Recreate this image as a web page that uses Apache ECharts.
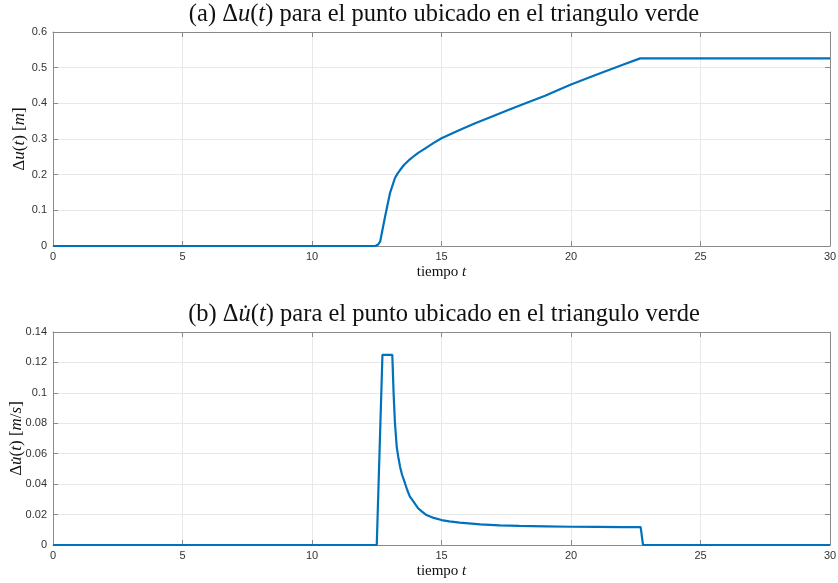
<!DOCTYPE html>
<html>
<head>
<meta charset="utf-8">
<script src="https://cdn.jsdelivr.net/npm/echarts@6/dist/echarts.min.js"></script>
<style>
html,body{margin:0;padding:0;background:#fff;}
#c{width:838px;height:583px;}
</style>
</head>
<body>
<div id="c"></div>
<script>
// Panel (a): displacement
const tA = [0, 12.45, 12.55, 12.63, 12.82, 13.01, 13.2, 13.3, 13.4, 13.55, 13.78, 13.95, 14.1, 14.42, 14.7, 15.0, 15.7, 16.3, 16.98, 17.6, 18.27, 19.0, 19.55, 20.0, 21.0, 22.0, 22.67, 30];
const uA = [0, 0, 0.004, 0.012, 0.082, 0.148, 0.19, 0.203, 0.213, 0.227, 0.243, 0.253, 0.261, 0.276, 0.289, 0.302, 0.325, 0.344, 0.364, 0.382, 0.401, 0.421, 0.439, 0.453, 0.481, 0.508, 0.526, 0.526];
// Panel (b): velocity
const tB = [0, 12.5, 12.72, 13.1, 13.15, 13.2, 13.27, 13.33, 13.4, 13.48, 13.59, 13.68, 13.78, 13.9, 14.1, 14.25, 14.42, 14.7, 15.0, 15.3, 15.7, 16.5, 17.24, 18.0, 19.0, 20.0, 21.0, 22.0, 22.69, 22.78, 30];
const vB = [0, 0, 0.125, 0.125, 0.1, 0.081, 0.0647, 0.058, 0.0515, 0.046, 0.0406, 0.036, 0.0318, 0.029, 0.0241, 0.022, 0.0197, 0.0178, 0.0164, 0.0155, 0.0147, 0.0136, 0.0129, 0.0126, 0.0123, 0.012, 0.0119, 0.0118, 0.0118, 0, 0];

const serif = '"Liberation Serif", "DejaVu Serif", serif';
const sans = '"Liberation Sans", Arial, sans-serif';
const axisCol = '#8a8a8a';
const labCol = '#333333';

function richSet(size) {
  return {
    n: {fontFamily: serif, fontSize: size, fontWeight: 'normal', color: '#111'},
    i: {fontFamily: serif, fontSize: size, fontWeight: 'normal', fontStyle: 'italic', color: '#111'}
  };
}

const chart = echarts.init(document.getElementById('c'), null, {renderer: 'canvas'});

function xAxisMain(gi) {
  return {
    type: 'value', gridIndex: gi, min: 0, max: 30, interval: 5,
    axisLine: {show: true, onZero: false, lineStyle: {color: axisCol, width: 1}},
    axisTick: {show: true, inside: true, length: 5, lineStyle: {color: axisCol}},
    axisLabel: {color: labCol, fontFamily: sans, fontSize: 11, margin: 5},
    splitLine: {show: true, lineStyle: {color: '#e8e8e8', width: 1}},
    name: '{n|tiempo }{i|t}', nameLocation: 'middle', nameGap: 19, nameMoveOverlap: false,
    nameTextStyle: {rich: richSet(15)}
  };
}
function xAxisTop(gi) {
  return {
    type: 'value', gridIndex: gi, min: 0, max: 30, interval: 5, position: 'top',
    axisLine: {show: true, onZero: false, lineStyle: {color: axisCol, width: 1}},
    axisTick: {show: true, inside: true, length: 5, lineStyle: {color: axisCol}},
    axisLabel: {show: false}, splitLine: {show: false}
  };
}
function yAxisMain(gi, max, interval, name, gap) {
  return {
    type: 'value', gridIndex: gi, min: 0, max: max, interval: interval,
    axisLine: {show: true, onZero: false, lineStyle: {color: axisCol, width: 1}},
    axisTick: {show: true, inside: true, length: 5, lineStyle: {color: axisCol}},
    axisLabel: {color: labCol, fontFamily: sans, fontSize: 11, margin: 6},
    splitLine: {show: true, lineStyle: {color: '#e8e8e8', width: 1}},
    name: name, nameLocation: 'middle', nameGap: gap, nameRotate: 90, nameMoveOverlap: false,
    nameTextStyle: {rich: richSet(17)}
  };
}
function yAxisRight(gi, max, interval) {
  return {
    type: 'value', gridIndex: gi, min: 0, max: max, interval: interval, position: 'right',
    axisLine: {show: true, onZero: false, lineStyle: {color: axisCol, width: 1}},
    axisTick: {show: true, inside: true, length: 5, lineStyle: {color: axisCol}},
    axisLabel: {show: false}, splitLine: {show: false}
  };
}

chart.setOption({
  animation: false,
  backgroundColor: '#fff',
  title: [
    {text: '{n|(a) Δ}{i|u}{n|(}{i|t}{n|) para el punto ubicado en el triangulo verde}',
     left: 444, top: 2, textAlign: 'center', textStyle: {fontWeight: 'normal', rich: richSet(24.5)}, padding: 0},
    {text: '{n|(b) Δ}{i|u̇}{n|(}{i|t}{n|) para el punto ubicado en el triangulo verde}',
     left: 444, top: 302, textAlign: 'center', textStyle: {fontWeight: 'normal', rich: richSet(24.5)}, padding: 0}
  ],
  grid: [
    {left: 53, right: 8, top: 32, height: 214, containLabel: false, outerBoundsMode: 'none'},
    {left: 53, right: 8, top: 332, height: 213, containLabel: false, outerBoundsMode: 'none'}
  ],
  xAxis: [xAxisMain(0), xAxisTop(0), xAxisMain(1), xAxisTop(1)],
  yAxis: [
    yAxisMain(0, 0.6, 0.1, '{n|Δ}{i|u}{n|(}{i|t}{n|) [}{i|m}{n|]}', 25),
    yAxisRight(0, 0.6, 0.1),
    yAxisMain(1, 0.14, 0.02, '{n|Δ}{i|u̇}{n|(}{i|t}{n|) [}{i|m}{n|/}{i|s}{n|]}', 28),
    yAxisRight(1, 0.14, 0.02)
  ],
  series: [
    {type: 'line', xAxisIndex: 0, yAxisIndex: 0, showSymbol: false, smooth: false,
     lineStyle: {color: '#0072BD', width: 2.2}, itemStyle: {color: '#0072BD'},
     data: tA.map((t, i) => [t, uA[i]])},
    {type: 'line', xAxisIndex: 2, yAxisIndex: 2, showSymbol: false, smooth: false,
     lineStyle: {color: '#0072BD', width: 2.2}, itemStyle: {color: '#0072BD'},
     data: tB.map((t, i) => [t, vB[i]])}
  ]
});
</script>
</body>
</html>
